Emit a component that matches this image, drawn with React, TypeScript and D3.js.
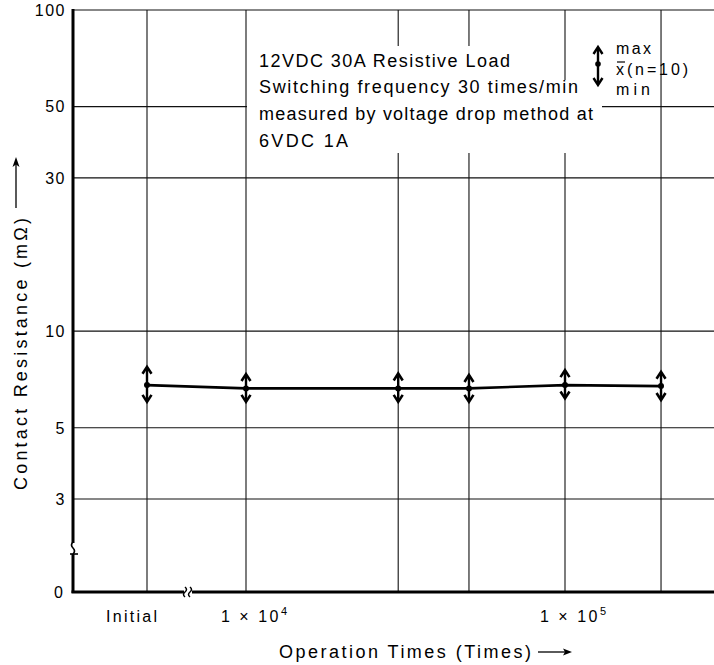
import React from 'react';
import * as d3 from 'd3';

// operation counts (0 = initial)
const operations = [0, 1e4, 3e4, 5e4, 1e5, 2e5];
const meanValues = [6.79, 6.63, 6.63, 6.63, 6.79, 6.74];
const maxValues = [7.74, 7.35, 7.38, 7.3, 7.56, 7.47];
const minValues = [6.02, 6.02, 6.02, 6.02, 6.17, 6.1];

const yTicks = [100, 50, 30, 10, 5, 3];
const xTickLabels = [
    {value: 1e4, base: '1 \u00d7 10', exp: '4'},
    {value: 1e5, base: '1 \u00d7 10', exp: '5'},
];
const legendLines = [
    '12VDC 30A Resistive Load',
    'Switching frequency 30 times/min',
    'measured by voltage drop method at',
    '6VDC 1A',
];
const legendWidths = [251, 319, 334, 89];

const W = 714;
const H = 665;
const FONT = '"Liberation Sans", Arial, Helvetica, sans-serif';

const axisX = 73;
const topY = 10;
const zeroY = 592;
const initialX = 147;
const xBreak = 188;
const yBreak = 548;

const xLog = d3.scaleLog().domain([1e4, 1e5]).range([246, 565]);
const x = (v: number) => (v === 0 ? initialX : xLog(v));
const y = d3.scaleLog().domain([3, 100]).range([499, topY]);

const arrowHead = (cx: number, tip: number, dir: number) =>
    `M${cx - 4.5},${tip + dir * 7} L${cx},${tip} L${cx + 4.5},${tip + dir * 7}`;

const App: React.FC = () => {
    const meanLine = d3.line<number>()
        .x((_, i) => x(operations[i]))
        .y(d => y(d))(meanValues) || '';

    return (
        <div style={{position: 'absolute', left: 0, top: 0}}>
            <svg width={W} height={H} viewBox={`0 0 ${W} ${H}`} style={{display: 'block', background: '#fff'}}
                 fontFamily={FONT}>
                {/* horizontal grid */}
                {yTicks.map(t => (
                    <line key={'h' + t} x1={axisX} x2={W} y1={y(t)} y2={y(t)} stroke="#111" strokeWidth={1.2}/>
                ))}
                {/* vertical grid */}
                {operations.map(o => (
                    <line key={'v' + o} x1={x(o)} x2={x(o)} y1={topY} y2={zeroY} stroke="#111" strokeWidth={1.1}/>
                ))}

                {/* white area behind the note */}
                <rect x={247} y={46} width={309} height={107} fill="#fff"/>
                <rect x={555} y={80} width={47} height={73} fill="#fff"/>

                {/* left axis with break */}
                <line x1={axisX} x2={axisX} y1={topY - 1} y2={yBreak - 5} stroke="#000" strokeWidth={3}/>
                <path d={`M${axisX},${yBreak - 6} q-3,3 0,6 q3,3 0,6`} fill="none" stroke="#000" strokeWidth={1.6}/>
                <line x1={axisX} x2={axisX} y1={yBreak + 6} y2={zeroY + 1} stroke="#000" strokeWidth={3}/>
                <line x1={axisX - 3} x2={axisX + 5} y1={yBreak + 6} y2={yBreak + 6} stroke="#000" strokeWidth={1.6}/>

                {/* baseline with break */}
                <line x1={axisX - 1.5} x2={xBreak - 4} y1={zeroY} y2={zeroY} stroke="#000" strokeWidth={3}/>
                <path d={`M${xBreak - 3},${zeroY - 5} q3,2.5 0,5 q-3,2.5 0,5`} fill="none" stroke="#000" strokeWidth={1.5}/>
                <path d={`M${xBreak + 2},${zeroY - 5} q3,2.5 0,5 q-3,2.5 0,5`} fill="none" stroke="#000" strokeWidth={1.5}/>
                <line x1={xBreak + 4} x2={W} y1={zeroY} y2={zeroY} stroke="#000" strokeWidth={3}/>

                {/* y tick labels */}
                {yTicks.map(t => (
                    <text key={'yl' + t} x={66} y={y(t)} dy="0.36em" textAnchor="end" fontSize={16}
                          letterSpacing={1.5} fill="#000">{t}</text>
                ))}
                <text x={63} y={zeroY} dy="0.36em" textAnchor="end" fontSize={16} fill="#000">0</text>

                {/* x tick labels */}
                <text x={106} y={622} fontSize={16} textLength={51} lengthAdjust="spacing"
                      fill="#000">Initial</text>
                {xTickLabels.map(t => (
                    <text key={'xl' + t.exp} x={xLog(t.value) - 25} y={622} fontSize={16} letterSpacing={2.5}
                          fill="#000">
                        {t.base}
                        <tspan dy={-7} fontSize={11}>{t.exp}</tspan>
                    </text>
                ))}

                {/* axis titles */}
                <text x={279} y={658} fontSize={18} textLength={252} lengthAdjust="spacing" fill="#000">
                    Operation Times (Times)
                </text>
                <line x1={538} x2={566} y1={652} y2={652} stroke="#000" strokeWidth={1.3}/>
                <path d="M572,652 L563,648.5 L565,652 L563,655.5 Z" fill="#000"/>

                <text transform="translate(27,490) rotate(-90)" fontSize={18} textLength={272}
                      lengthAdjust="spacing" fill="#000">Contact Resistance (m{'\u03a9'})</text>
                <line x1={16} x2={16} y1={208} y2={164} stroke="#000" strokeWidth={1.3}/>
                <path d="M16,157 L12.5,167 L16,164.5 L19.5,167 Z" fill="#000"/>

                {/* note */}
                {legendLines.map((l, i) => (
                    <text key={'n' + i} x={259} y={66.5 + i * 26.7} fontSize={18} textLength={legendWidths[i]}
                          lengthAdjust="spacing" fill="#000">{l}</text>
                ))}
                {/* legend symbol */}
                <line x1={598} x2={598} y1={48} y2={84} stroke="#000" strokeWidth={2.4}/>
                <path d={arrowHead(598, 47, 1)} fill="none" stroke="#000" strokeWidth={2.4}/>
                <path d={arrowHead(598, 85, -1)} fill="none" stroke="#000" strokeWidth={2.4}/>
                <circle cx={598} cy={64} r={2.8} fill="#000"/>
                <text x={616} y={54} fontSize={16} textLength={35} lengthAdjust="spacing" fill="#000">max</text>
                <text x={616} y={75} fontSize={16} textLength={72} lengthAdjust="spacing" fill="#000">x(n=10)</text>
                <line x1={617} x2={625} y1={62} y2={62} stroke="#000" strokeWidth={1.2}/>
                <text x={616} y={95} fontSize={16} textLength={34} lengthAdjust="spacing" fill="#000">min</text>

                {/* mean line */}
                <path d={meanLine} fill="none" stroke="#000" strokeWidth={2.6}/>

                {/* min/max arrows */}
                {operations.map((o, i) => {
                    const cx = x(o);
                    const top = y(maxValues[i]);
                    const bot = y(minValues[i]);
                    return (
                        <g key={'a' + o}>
                            <line x1={cx} x2={cx} y1={top + 1} y2={bot - 1} stroke="#000" strokeWidth={2.4}/>
                            <path d={arrowHead(cx, top, 1)} fill="none" stroke="#000" strokeWidth={2.6}/>
                            <path d={arrowHead(cx, bot, -1)} fill="none" stroke="#000" strokeWidth={2.6}/>
                            <circle cx={cx} cy={y(meanValues[i])} r={3} fill="#000"/>
                        </g>
                    );
                })}
            </svg>
        </div>
    );
};

export default App;
